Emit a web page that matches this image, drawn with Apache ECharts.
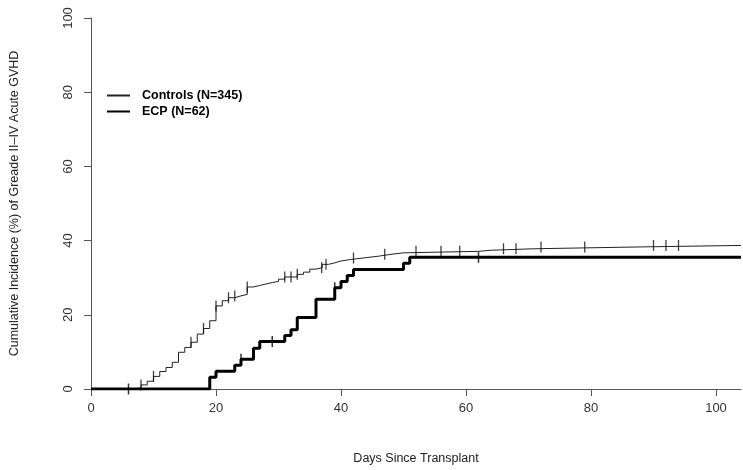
<!DOCTYPE html>
<html><head><meta charset="utf-8">
<script src="https://cdn.jsdelivr.net/npm/echarts@6/dist/echarts.min.js"></script>
<style>html,body{margin:0;padding:0;background:#fff}#c{width:743px;height:470px}</style>
</head><body><div id="c"></div>
<script>
const xTicks = [0, 20, 40, 60, 80, 100];
const yTicks = [0, 20, 40, 60, 80, 100];
const seriesNames = ['Controls (N=345)', 'ECP (N=62)'];
// [day, cumulative incidence % from that day on]
const controlsSteps = [[0,0],[7,0.3],[8,1.1],[9,2.1],[10,3.4],[11,4.7],[12,5.8],[13,7.2],[14,9.9],[15,11.2],[16,12.6],[17,14.8],[18,16.3],[19,18.4],[20,22.4],[21,23.8],[22,24.6],[23,25.1],[24,25.5],[25,27.5],[26,27.9],[27,28.3],[28,28.7],[29,29.0],[30,29.6],[31,30.2],[33,30.9],[34,31.5],[35,32.3],[36,32.7],[37,33.6],[38,34.0],[39,34.5],[40,34.9],[41.5,35.3],[43.5,35.8],[46,36.3],[48,36.7],[50,37.1],[62,37.4],[64,37.8],[71,38.3],[88,38.7],[104,38.7]];
const ecpSteps = [[0,0],[19,3.2],[20,4.8],[23,6.4],[24,8.0],[26,11.0],[27,12.8],[31,14.4],[32,16.0],[33,19.3],[36,24.2],[39,27.3],[40,29.0],[41,30.6],[42,32.2],[50,33.9],[51,35.5],[104,35.5]];
const controlsCensor = [8,10,16,18,20,22,23,25,31,32,33,36.9,37.6,42,47,52,56,59,66,68,72,79,90,92,94];
const ecpCensor = [6,24,29,39,62];

function valueAt(steps, t) { let v = 0; for (const s of steps) { if (s[0] <= t) v = s[1]; } return v; }
const font = "'Liberation Sans', Arial, Helvetica, sans-serif";
const chart = echarts.init(document.getElementById('c'), null, {renderer: 'canvas'});
chart.setOption({
  backgroundColor: '#fff',
  animation: false,
  grid: {left: 89, right: 2, top: 18, bottom: 80},
  legend: {
    orient: 'vertical', left: 106, top: 89, padding: 0, itemGap: 3,
    itemWidth: 23, itemHeight: 14,
    itemStyle: {opacity: 0},
    textStyle: {fontFamily: font, fontSize: 12.5, fontWeight: 'bold', color: '#000', padding: [0,0,0,7]},
    data: seriesNames
  },
  xAxis: {
    type: 'value', min: 0, max: 104,
    name: 'Days Since Transplant', nameLocation: 'middle', nameGap: 63,
    nameTextStyle: {fontFamily: font, fontSize: 12.5, color: '#222'},
    splitLine: {show: false},
    axisLine: {show: true, lineStyle: {color: '#555', width: 1}},
    axisTick: {show: true, length: 7, lineStyle: {color: '#555'}, customValues: xTicks},
    axisLabel: {fontFamily: font, fontSize: 13, color: '#333', margin: 13, customValues: xTicks}
  },
  yAxis: {
    type: 'value', min: 0, max: 100, interval: 20,
    name: 'Cumulative Incidence (%) of Greade II\u2013IV Acute GVHD', nameLocation: 'middle', nameGap: 70,
    nameRotate: 90,
    nameTextStyle: {fontFamily: font, fontSize: 12.5, color: '#222'},
    splitLine: {show: false},
    axisLine: {show: true, lineStyle: {color: '#555', width: 1}},
    axisTick: {show: true, length: 7, lineStyle: {color: '#555'}, customValues: yTicks},
    axisLabel: {fontFamily: font, fontSize: 13, color: '#333', margin: 16, rotate: 90, customValues: yTicks}
  },
  series: [
    {name: seriesNames[0], type: 'line', step: 'end', symbol: 'none', data: controlsSteps,
     lineStyle: {color: '#222', width: 1}, itemStyle: {color: '#222'}, z: 3},
    {name: seriesNames[1], type: 'line', step: 'end', symbol: 'none', data: ecpSteps,
     lineStyle: {color: '#000', width: 3}, itemStyle: {color: '#000'}, z: 4},
    {name: 'controlsCensor', type: 'scatter', symbol: 'rect', symbolSize: [1.3, 11],
     data: controlsCensor.map(t => [t, valueAt(controlsSteps, t)]), itemStyle: {color: '#111'}, z: 5, silent: true},
    {name: 'ecpCensor', type: 'scatter', symbol: 'rect', symbolSize: [1.5, 11],
     data: ecpCensor.map(t => [t, valueAt(ecpSteps, t)]), itemStyle: {color: '#000'}, z: 5, silent: true}
  ]
});
</script></body></html>
